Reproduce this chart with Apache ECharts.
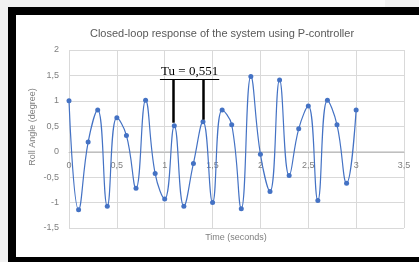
<!DOCTYPE html>
<html>
<head>
<meta charset="utf-8">
<script src="https://cdn.jsdelivr.net/npm/echarts@6/dist/echarts.min.js"></script>
<style>
  html, body { margin: 0; padding: 0; }
  body { width: 419px; height: 262px; background: #f1f1f1; position: relative; overflow: hidden; }
  #topband { position: absolute; left: 70px; top: 0; width: 315px; height: 7px; background: #fafafa; }
  #frame {
    position: absolute; left: 8px; top: 7px; width: 411px; height: 255px;
    box-sizing: border-box; background: #fff;
    border-left: 8px solid #000; border-top: 8px solid #000; border-bottom: 5px solid #000;
  }
  #chart { position: absolute; left: 0; top: 0; width: 419px; height: 262px; }
</style>
</head>
<body>
<div id="topband"></div>
<div id="frame"></div>
<div id="chart"></div>
<script>
  // time in seconds, sampled every 0.1 s
  const times = [0, 0.1, 0.2, 0.3, 0.4, 0.5, 0.6, 0.7, 0.8, 0.9, 1.0,
    1.1, 1.2, 1.3, 1.4, 1.5, 1.6, 1.7, 1.8, 1.9, 2.0,
    2.1, 2.2, 2.3, 2.4, 2.5, 2.6, 2.7, 2.8, 2.9, 3.0];
  // roll angle in degrees
  const rollAngle = [1.0, -1.14, 0.19, 0.82, -1.07, 0.67, 0.32, -0.72, 1.01, -0.43, -0.93,
    0.51, -1.07, -0.23, 0.59, -1.0, 0.82, 0.53, -1.12, 1.48, -0.05,
    -0.78, 1.41, -0.47, 0.45, 0.9, -0.96, 1.01, 0.53, -0.62, 0.82];

  // Tu annotation (data coordinates)
  const tuLabel = "Tu = 0,551";
  const tuLabelAt = [1.26, 1.58];
  const tuBar = [[0.95, 1.42], [1.57, 1.42]];
  const tuLeft = [[1.09, 1.42], [1.09, 0.57]];
  const tuRight = [[1.40, 1.42], [1.40, 0.63]];

  const fmt = (v) => String(v).replace(".", ",");
  const font = "'Liberation Sans', Arial, sans-serif";
  const labelStyle = { color: "#7f7f7f", fontSize: 9, fontFamily: font };

  const chart = echarts.init(document.getElementById("chart"));
  chart.setOption({
    animation: false,
    backgroundColor: "transparent",
    title: {
      text: "Closed-loop response of the system using P-controller",
      left: 217, top: 23, textAlign: "center",
      textStyle: { fontFamily: font, fontSize: 11, fontWeight: "normal", color: "#595959" },
    },
    // second grid ends at the zero line: carries the x labels like Excel does
    grid: [
      { left: 69, right: 15, top: 50, bottom: 34 },
      { left: 69, right: 15, top: 50, bottom: 110 },
    ],
    xAxis: [
      {
        type: "value", gridIndex: 0,
        min: 0, max: 3.5, interval: 0.5,
        axisLine: { show: false },
        axisTick: { show: false },
        axisLabel: { show: false },
        splitLine: { lineStyle: { color: "#d9d9d9" } },
      },
      {
        type: "value", gridIndex: 1,
        min: 0, max: 3.5, interval: 0.5,
        axisLine: { show: true, onZero: false, lineStyle: { color: "#bfbfbf", width: 1 } },
        axisTick: { show: false },
        axisLabel: { ...labelStyle, margin: 9, formatter: fmt },
        splitLine: { show: false },
      },
    ],
    yAxis: [
      {
        type: "value", gridIndex: 0,
        min: -1.5, max: 2, interval: 0.5,
        axisLine: { show: false, onZero: false },
        axisTick: { show: false },
        axisLabel: { ...labelStyle, margin: 10, formatter: fmt },
        splitLine: { lineStyle: { color: "#d9d9d9" } },
      },
      {
        type: "value", gridIndex: 1, show: false,
        min: 0, max: 2,
      },
    ],
    graphic: [
      {
        type: "text", x: 33, y: 127, rotation: Math.PI / 2,
        style: { text: "Roll Angle (degree)", fill: "#7f7f7f", font: "9px " + font, align: "center", verticalAlign: "middle" },
      },
      {
        type: "text", x: 236, y: 238,
        style: { text: "Time (seconds)", fill: "#7f7f7f", font: "9px " + font, align: "center", verticalAlign: "middle" },
      },
    ],
    series: [
      {
        type: "line",
        xAxisIndex: 0, yAxisIndex: 0,
        data: times.map((t, i) => [t, rollAngle[i]]),
        smooth: 0.45,
        symbol: "circle",
        symbolSize: 5,
        z: 3,
        itemStyle: { color: "#4472c4" },
        lineStyle: { color: "#4472c4", width: 1.2 },
        markLine: {
          silent: true,
          symbol: "none",
          label: { show: false },
          data: [
            [{ coord: tuBar[0], lineStyle: { color: "#000", width: 1, type: "solid" } }, { coord: tuBar[1] }],
            [{ coord: tuLeft[0], lineStyle: { color: "#000", width: 2.5, type: "solid" } }, { coord: tuLeft[1] }],
            [{ coord: tuRight[0], lineStyle: { color: "#000", width: 2.5, type: "solid" } }, { coord: tuRight[1] }],
          ],
        },
        markPoint: {
          silent: true,
          symbol: "circle",
          symbolSize: 0,
          data: [{ coord: tuLabelAt }],
          label: {
            show: true, position: "inside", formatter: tuLabel,
            color: "#000", fontSize: 13, fontFamily: "'Liberation Serif', 'Times New Roman', serif",
          },
        },
      },
    ],
  });
</script>
</body>
</html>
